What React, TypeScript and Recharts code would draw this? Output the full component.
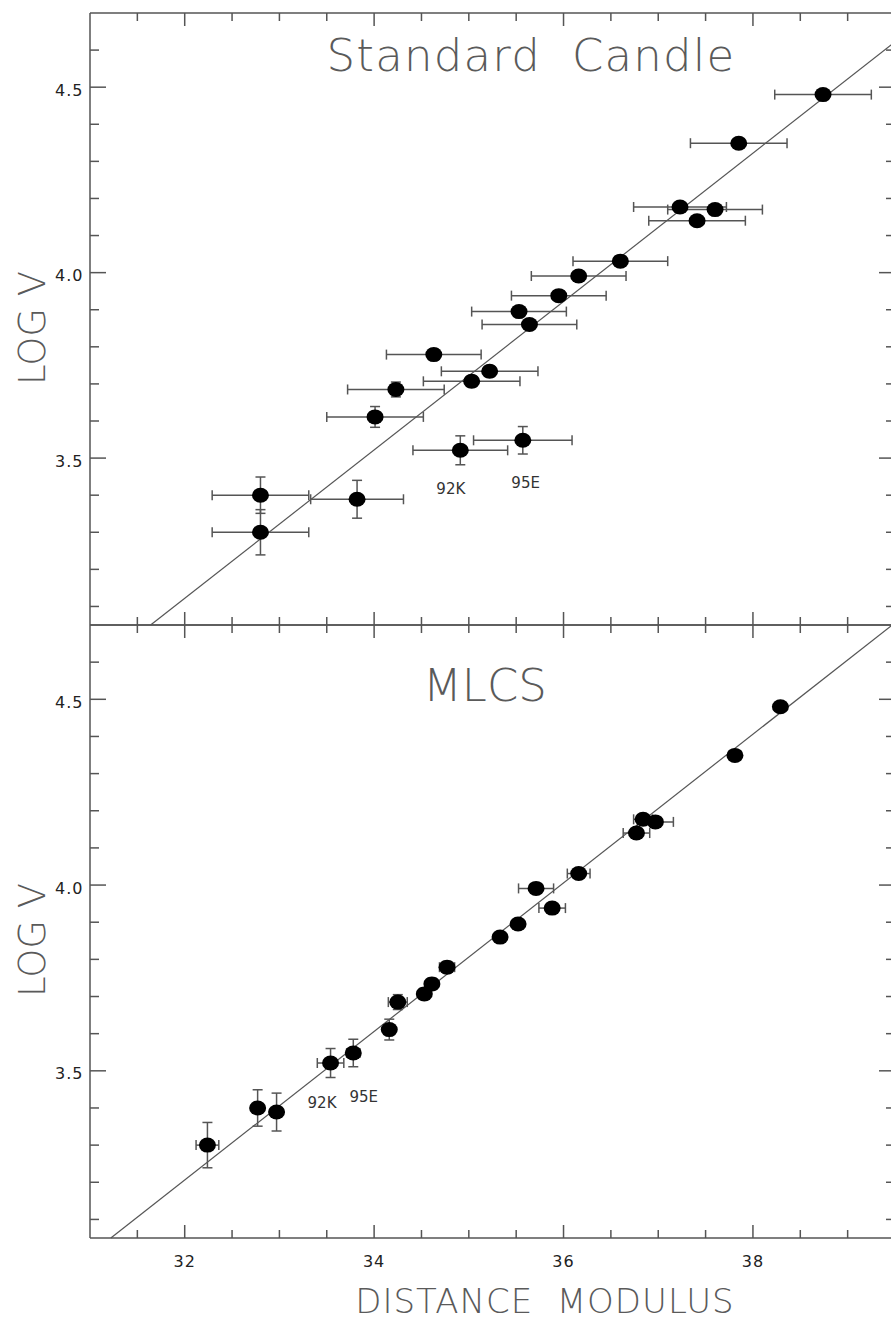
import React from 'react';
import { ScatterChart, Scatter, XAxis, YAxis, ErrorBar, ReferenceLine, Customized } from 'recharts';

// log of recession velocity, same galaxies in both panels
const logV = [4.48, 4.349, 4.177, 4.17, 4.14, 4.031, 3.991, 3.938, 3.895, 3.86, 3.779, 3.734, 3.707, 3.685, 3.611, 3.521, 3.548, 3.40, 3.389, 3.30];
const logVErr = [0.01, 0.01, 0.01, 0.01, 0.01, 0.01, 0.01, 0.01, 0.01, 0.01, 0.015, 0.015, 0.015, 0.02, 0.028, 0.039, 0.037, 0.049, 0.051, 0.061];

// distance modulus, standard candle method
const candleMu = [38.74, 37.85, 37.23, 37.60, 37.41, 36.60, 36.16, 35.95, 35.53, 35.64, 34.63, 35.22, 35.03, 34.23, 34.01, 34.91, 35.57, 32.80, 33.82, 32.80];
const candleMuErr = [0.51, 0.51, 0.49, 0.5, 0.51, 0.5, 0.5, 0.5, 0.5, 0.5, 0.5, 0.51, 0.51, 0.51, 0.51, 0.5, 0.52, 0.51, 0.49, 0.51];

// distance modulus, MLCS method
const mlcsMu = [38.29, 37.81, 36.84, 36.97, 36.77, 36.16, 35.71, 35.88, 35.52, 35.33, 34.77, 34.61, 34.53, 34.25, 34.16, 33.54, 33.78, 32.77, 32.97, 32.24];
const mlcsMuErr = [0.03, 0.06, 0.1, 0.19, 0.14, 0.12, 0.185, 0.14, 0.05, 0.05, 0.08, 0.05, 0.05, 0.1, 0.05, 0.14, 0.07, 0.05, 0.05, 0.12];

// fitted lines (endpoints)
const candleFit = [{ mu: 31.64, v: 3.05 }, { mu: 39.5, v: 4.622 }];
const mlcsFit = [{ mu: 31.22, v: 3.05 }, { mu: 39.47, v: 4.70 }];

const candleNotes = [{ mu: 34.81, v: 3.417, name: '92K' }, { mu: 35.6, v: 3.433, name: '95E' }];
const mlcsNotes = [{ mu: 33.45, v: 3.414, name: '92K' }, { mu: 33.89, v: 3.43, name: '95E' }];

const xTicks = [31.5, 32, 32.5, 33, 33.5, 34, 34.5, 35, 35.5, 36, 36.5, 37, 37.5, 38, 38.5, 39];
const yTicks = [3.1, 3.2, 3.3, 3.4, 3.5, 3.6, 3.7, 3.8, 3.9, 4.0, 4.1, 4.2, 4.3, 4.4, 4.5, 4.6];
const xLabels = [32, 34, 36, 38];
const yLabels = [3.5, 4.0, 4.5];

const X_DOMAIN: [number, number] = [31, 39.5];
const Y_DOMAIN: [number, number] = [3.05, 4.7];

const AXIS = '#555';
const FONT = 'DejaVu Sans, Verdana, sans-serif';
const tickFont = { fontFamily: FONT, fontSize: 16, fill: '#222', letterSpacing: 1 };
const titleFont = { fontFamily: FONT, fill: '#5a5a5a', fontWeight: 200 as const };

const candleRows = logV.map((v, i) => ({ mu: candleMu[i], v, muErr: candleMuErr[i], vErr: logVErr[i] }));
const mlcsRows = logV.map((v, i) => ({ mu: mlcsMu[i], v, muErr: mlcsMuErr[i], vErr: logVErr[i] }));

const isOn = (list: number[], v: number) => list.some((t) => Math.abs(t - v) < 1e-6);

// ticks point into the plot, like the original IDL figure
const makeXTick = (dir: number, labels: boolean) => (p: any) => {
  const v = p.payload.value;
  const major = isOn(xLabels, v);
  return (
    <g>
      <line x1={p.x} y1={p.y} x2={p.x} y2={p.y + dir * (major ? 13 : 8)} stroke={AXIS} strokeWidth={1.5} />
      {labels && major && (
        <text x={p.x} y={p.y + 28.5} textAnchor="middle" {...tickFont}>{v}</text>
      )}
    </g>
  );
};

const makeYTick = (dir: number, labels: boolean) => (p: any) => {
  const v = p.payload.value;
  const major = isOn(yLabels, v);
  return (
    <g>
      <line x1={p.x} y1={p.y} x2={p.x + dir * (major ? 16 : 9)} y2={p.y} stroke={AXIS} strokeWidth={1.5} />
      {labels && major && (
        <text x={p.x - 6.5} y={p.y + 8.5} textAnchor="end" {...tickFont}>{v.toFixed(1)}</text>
      )}
    </g>
  );
};

const dot = (p: any) => <ellipse cx={p.cx} cy={p.cy} rx={8.5} ry={7.5} fill="#000" />;
const hidden = () => <g />;
const note = (p: any) => (
  <text x={p.cx} y={p.cy + 5} textAnchor="middle" fontFamily={FONT} fontSize={15} fill="#333">
    {p.payload.name}
  </text>
);

const axisLine = { stroke: AXIS, strokeWidth: 1.5 };

const Panel = ({ rows, fit, notes, height, margin, bottomHeight, labels, titles }: any) => (
  <ScatterChart width={896} height={height} margin={margin}>
    <XAxis xAxisId="b" type="number" dataKey="mu" domain={X_DOMAIN} ticks={xTicks} interval={0}
      height={bottomHeight} tickSize={0} tickMargin={0} axisLine={axisLine} tickLine={false}
      tick={makeXTick(-1, labels)} allowDataOverflow />
    <XAxis xAxisId="t" orientation="top" type="number" dataKey="mu" domain={X_DOMAIN} ticks={xTicks} interval={0}
      height={1} tickSize={0} tickMargin={0} axisLine={axisLine} tickLine={false}
      tick={makeXTick(1, false)} allowDataOverflow />
    <YAxis yAxisId="l" type="number" dataKey="v" domain={Y_DOMAIN} ticks={yTicks} interval={0}
      width={90} tickSize={0} tickMargin={0} axisLine={axisLine} tickLine={false}
      tick={makeYTick(1, true)} allowDataOverflow />
    <YAxis yAxisId="r" orientation="right" type="number" dataKey="v" domain={Y_DOMAIN} ticks={yTicks} interval={0}
      width={1} tickSize={0} tickMargin={0} axisLine={axisLine} tickLine={false}
      tick={makeYTick(-1, false)} allowDataOverflow />
    <ReferenceLine xAxisId="b" yAxisId="l" segment={[{ x: fit[0].mu, y: fit[0].v }, { x: fit[1].mu, y: fit[1].v }]}
      stroke="#555" strokeWidth={1.2} ifOverflow="visible" />
    {/* keeps the mirrored top/right axes alive */}
    <Scatter xAxisId="t" yAxisId="r" data={rows} shape={hidden} isAnimationActive={false} />
    <Scatter xAxisId="b" yAxisId="l" data={rows} shape={dot} isAnimationActive={false}>
      <ErrorBar dataKey="muErr" direction="x" width={5} stroke={AXIS} strokeWidth={1.5} isAnimationActive={false} />
      <ErrorBar dataKey="vErr" direction="y" width={5} stroke={AXIS} strokeWidth={1.5} isAnimationActive={false} />
    </Scatter>
    <Scatter xAxisId="b" yAxisId="l" data={notes} shape={note} isAnimationActive={false} />
    <Customized component={titles} />
  </ScatterChart>
);

const TopTitles = () => (
  <g>
    <text x={531} y={71} textAnchor="middle" fontSize={45} letterSpacing={1.2} style={{ whiteSpace: 'pre' }} {...titleFont}>
      {'Standard  Candle'}
    </text>
    <text x={45} y={328} transform="rotate(-90 45 328)" textAnchor="middle" fontSize={37} {...titleFont}>
      LOG V
    </text>
  </g>
);

const BottomTitles = () => (
  <g>
    <text x={485} y={101} textAnchor="middle" fontSize={45} {...titleFont}>MLCS</text>
    <text x={45} y={340} transform="rotate(-90 45 340)" textAnchor="middle" fontSize={37} {...titleFont}>
      LOG V
    </text>
    <text x={545} y={713} textAnchor="middle" fontSize={34} letterSpacing={1} style={{ whiteSpace: 'pre' }} {...titleFont}>
      {'DISTANCE  MODULUS'}
    </text>
  </g>
);

export default function App() {
  return (
    <div style={{ position: 'absolute', left: 0, top: 0, width: 891, height: 1320, overflow: 'hidden', background: '#fff' }}>
      <div style={{ position: 'absolute', left: 0, top: 0 }}>
        <Panel rows={candleRows} fit={candleFit} notes={candleNotes} height={645}
          margin={{ top: 12, right: 0, bottom: 19, left: 0 }} bottomHeight={1} labels={false} titles={TopTitles} />
      </div>
      <div style={{ position: 'absolute', left: 0, top: 600 }}>
        <Panel rows={mlcsRows} fit={mlcsFit} notes={mlcsNotes} height={720}
          margin={{ top: 24, right: 0, bottom: 0, left: 0 }} bottomHeight={82} labels={true} titles={BottomTitles} />
      </div>
    </div>
  );
}
